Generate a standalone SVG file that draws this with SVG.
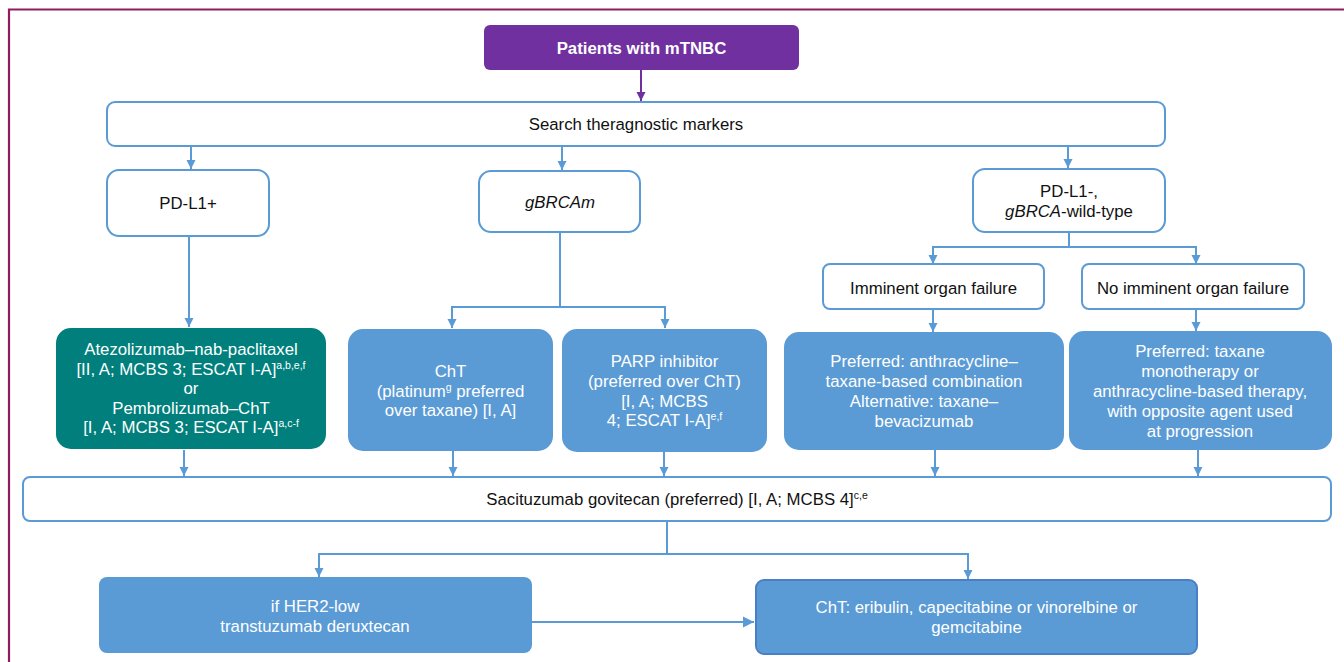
<svg xmlns="http://www.w3.org/2000/svg" width="1344" height="662" viewBox="0 0 1344 662">
<defs>
<style>
text{font-family:"Liberation Sans",Arial,sans-serif;font-size:16.8px;text-anchor:middle}
.dk{fill:#111}
.wt{fill:#fff}
.ob{fill:#fff;stroke:#5B9BD5;stroke-width:2}
.fb{fill:#5B9BD5}
.ln{fill:none;stroke:#5B9BD5;stroke-width:2}
.sup{font-size:10.5px}
</style>
<marker id="ah" markerUnits="userSpaceOnUse" markerWidth="10" markerHeight="10" refX="9" refY="5" orient="auto">
<path d="M0,0.5 L9,5 L0,9.5 z" fill="#5B9BD5"/>
</marker>
<marker id="ahp" markerUnits="userSpaceOnUse" markerWidth="10" markerHeight="10" refX="9" refY="5" orient="auto">
<path d="M0,0.5 L9,5 L0,9.5 z" fill="#7030A0"/>
</marker>
<marker id="ahb" markerUnits="userSpaceOnUse" markerWidth="12" markerHeight="12" refX="11" refY="6" orient="auto">
<path d="M0,0.5 L11,6 L0,11.5 z" fill="#5B9BD5"/>
</marker>
</defs>
<rect width="1344" height="662" fill="#fff"/>
<path d="M9,662 L9,9.5 L1344,9.5" fill="none" stroke="#8C1D5E" stroke-width="2.2"/>

<g id="connectors">
<line x1="641" y1="70" x2="641" y2="101" stroke="#7030A0" stroke-width="2" marker-end="url(#ahp)"/>
<line class="ln" x1="191" y1="146" x2="191" y2="169" marker-end="url(#ah)"/>
<line class="ln" x1="562" y1="146" x2="562" y2="170" marker-end="url(#ah)"/>
<line class="ln" x1="1068" y1="146" x2="1068" y2="168" marker-end="url(#ah)"/>
<line class="ln" x1="189" y1="236" x2="189" y2="327" marker-end="url(#ah)"/>
<path class="ln" d="M560,232 V307 M452,307 H665"/>
<line class="ln" x1="452" y1="306" x2="452" y2="328" marker-end="url(#ah)"/>
<line class="ln" x1="665" y1="306" x2="665" y2="328" marker-end="url(#ah)"/>
<path class="ln" d="M1069,232 V247 M932,247 H1197"/>
<line class="ln" x1="933" y1="246" x2="933" y2="264" marker-end="url(#ah)"/>
<line class="ln" x1="1196" y1="246" x2="1196" y2="264" marker-end="url(#ah)"/>
<line class="ln" x1="933" y1="309" x2="933" y2="332" marker-end="url(#ah)"/>
<line class="ln" x1="1196" y1="309" x2="1196" y2="331" marker-end="url(#ah)"/>
<line class="ln" x1="184" y1="450" x2="184" y2="476" marker-end="url(#ah)"/>
<line class="ln" x1="453" y1="451" x2="453" y2="476" marker-end="url(#ah)"/>
<line class="ln" x1="664" y1="452" x2="664" y2="476" marker-end="url(#ah)"/>
<line class="ln" x1="935" y1="450" x2="935" y2="476" marker-end="url(#ah)"/>
<line class="ln" x1="1198" y1="450" x2="1198" y2="476" marker-end="url(#ah)"/>
<path class="ln" d="M667,521 V554 M318,554 H969"/>
<line class="ln" x1="319" y1="553" x2="319" y2="577" marker-end="url(#ah)"/>
<line class="ln" x1="968" y1="553" x2="968" y2="579" marker-end="url(#ah)"/>
<line class="ln" x1="532" y1="622" x2="754" y2="622" marker-end="url(#ahb)"/>
</g>

<g id="patients">
<rect x="484" y="25" width="315" height="45" rx="6" fill="#7030A0"/>
<text x="641.5" y="54" class="wt" font-weight="bold">Patients with mTNBC</text>
</g>
<g id="search">
<rect class="ob" x="107" y="102" width="1058" height="44" rx="8"/>
<text x="636" y="130" class="dk">Search theragnostic markers</text>
</g>
<g id="pdl1pos">
<rect class="ob" x="107" y="170" width="162" height="66" rx="12"/>
<text x="188" y="209" class="dk">PD-L1+</text>
</g>
<g id="gbrcam">
<rect class="ob" x="479" y="171" width="161" height="61" rx="12"/>
<text x="560" y="208" class="dk" font-style="italic">gBRCAm</text>
</g>
<g id="pdl1neg">
<rect class="ob" x="973" y="169" width="192" height="63" rx="12"/>
<text x="1069" y="197" class="dk">PD-L1-,</text>
<text x="1069" y="217" class="dk"><tspan font-style="italic">gBRCA</tspan>-wild-type</text>
</g>
<g id="imminent">
<rect class="ob" x="823" y="264" width="221" height="45" rx="7"/>
<text x="933.5" y="294" class="dk">Imminent organ failure</text>
</g>
<g id="noimminent">
<rect class="ob" x="1082" y="264" width="222" height="45" rx="7"/>
<text x="1193" y="294" class="dk">No imminent organ failure</text>
</g>
<g id="immuno">
<rect x="56" y="328" width="270" height="121" rx="15" fill="#007F7C"/>
<text x="191" y="355" class="wt">Atezolizumab–nab-paclitaxel</text>
<text x="191" y="374.5" class="wt">[II, A; MCBS 3; ESCAT I-A]<tspan class="sup" dy="-6">a,b,e,f</tspan></text>
<text x="191" y="394" class="wt">or</text>
<text x="191" y="413.5" class="wt">Pembrolizumab–ChT</text>
<text x="191" y="433" class="wt">[I, A; MCBS 3; ESCAT I-A]<tspan class="sup" dy="-6">a,c-f</tspan></text>
</g>
<g id="cht1">
<rect class="fb" x="348" y="329" width="205" height="122" rx="15"/>
<text x="450.5" y="377" class="wt">ChT</text>
<text x="450.5" y="396.5" class="wt">(platinum<tspan class="sup" dy="-6">g</tspan><tspan dy="6"> preferred</tspan></text>
<text x="450.5" y="416" class="wt">over taxane) [I, A]</text>
</g>
<g id="parp">
<rect class="fb" x="562" y="329" width="205" height="123" rx="15"/>
<text x="664.5" y="367" class="wt">PARP inhibitor</text>
<text x="664.5" y="387" class="wt">(preferred over ChT)</text>
<text x="664.5" y="407" class="wt">[I, A; MCBS</text>
<text x="664.5" y="426" class="wt">4; ESCAT I-A]<tspan class="sup" dy="-6">e,f</tspan></text>
</g>
<g id="anthra">
<rect class="fb" x="784" y="332" width="280" height="118" rx="15"/>
<text x="924" y="367" class="wt">Preferred: anthracycline–</text>
<text x="924" y="387" class="wt">taxane-based combination</text>
<text x="924" y="407" class="wt">Alternative: taxane–</text>
<text x="924" y="427" class="wt">bevacizumab</text>
</g>
<g id="taxane">
<rect class="fb" x="1069" y="331" width="263" height="119" rx="15"/>
<text x="1200" y="357" class="wt">Preferred: taxane</text>
<text x="1200" y="377" class="wt">monotherapy or</text>
<text x="1200" y="397" class="wt">anthracycline-based therapy,</text>
<text x="1200" y="417" class="wt">with opposite agent used</text>
<text x="1200" y="437" class="wt">at progression</text>
</g>
<g id="sacituzumab">
<rect class="ob" x="23" y="477" width="1308" height="44" rx="7"/>
<text x="677" y="505" class="dk">Sacituzumab govitecan (preferred) [I, A; MCBS 4]<tspan class="sup" dy="-6">c,e</tspan></text>
</g>
<g id="her2low">
<rect class="fb" x="99" y="577" width="433" height="76" rx="8"/>
<text x="315" y="612" class="wt">if HER2-low</text>
<text x="315" y="632" class="wt">transtuzumab deruxtecan</text>
</g>
<g id="cht2">
<rect x="756" y="580" width="441" height="74" rx="8" fill="#5B9BD5" stroke="#4A7FC8" stroke-width="2"/>
<text x="976.5" y="613" class="wt">ChT: eribulin, capecitabine or vinorelbine or</text>
<text x="976.5" y="633" class="wt">gemcitabine</text>
</g>
</svg>
